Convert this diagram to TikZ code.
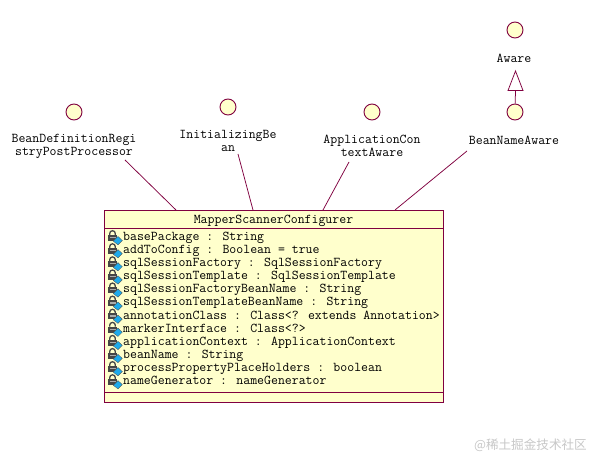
\documentclass[tikz,border=0pt]{standalone}
\usepackage{fontspec}
\newfontfamily\cjkmark{Noto Sans CJK SC}
\definecolor{umlline}{RGB}{128,0,64}
\definecolor{umlfill}{RGB}{255,255,204}
\definecolor{lockgrey}{RGB}{70,70,70}
\definecolor{lockband}{RGB}{170,170,170}
\definecolor{gemblue}{RGB}{30,170,235}
\definecolor{markgrey}{RGB}{200,200,200}
\tikzset{
  iface/.style={circle,draw=umlline,fill=umlfill,line width=0.9pt,minimum size=16pt,inner sep=0pt},
  umltext/.style={font=\ttfamily\fontsize{13.46}{13.2}\selectfont,text=black,inner sep=0pt,align=center},
  attr/.style={umltext,anchor=base west},
  link/.style={draw=umlline,line width=0.75pt},
  lockicon/.pic={
    \draw[lockgrey,line width=1.3pt] (1.7,-5.5) -- (1.7,-7) arc[start angle=180,end angle=360,radius=2.8] -- (7.3,-5.5);
    \fill[lockgrey] (0.3,-5.6) rectangle (9,0.4);
    \fill[lockband] (1.5,-3.6) rectangle (7.5,-2.4);
    \fill[gemblue,draw=black!70,line width=0.3pt] (5.3,0.7) -- (10,4.3) -- (14.3,0) -- (10,-4) -- cycle;
  }
}
\begin{document}
\begin{tikzpicture}[x=1pt,y=-1pt]
\useasboundingbox[fill=white] (0,0) rectangle (590,457);
% class box
\node[draw=umlline,fill=umlfill,line width=0.9pt,minimum width=339pt,minimum height=192pt,inner sep=0pt,anchor=north west] (cls) at (104,210) {};
\coordinate (sepA) at (104,228); \coordinate (sepAe) at (443,228);
\coordinate (sepB) at (104,392); \coordinate (sepBe) at (443,392);
\draw[link] (sepA) -- (sepAe);
\draw[link] (sepB) -- (sepBe);
\node[umltext,anchor=base] (clsname) at (273.5,223.5) {MapperScannerConfigurer};
% interfaces
\node[iface] (c1) at (74,112) {};
\node[iface] (c2) at (228,107) {};
\node[iface] (c3) at (372,112) {};
\node[iface] (c4) at (515,112) {};
\node[iface] (c5) at (515,30) {};
\node[umltext] (l1) at (74,146) {BeanDefinitionRegi\\stryPostProcessor};
\node[umltext] (l2) at (228,141) {InitializingBe\\an};
\node[umltext] (l3) at (372,146) {ApplicationCon\\textAware};
\node[umltext] (l4) at (514,140) {BeanNameAware};
\node[umltext] (l5) at (514,58) {Aware};
% connectors
\coordinate (s1) at (125,160); \coordinate (t1) at (176,210);
\coordinate (s2) at (238,154); \coordinate (t2) at (253,210);
\coordinate (s3) at (349,162); \coordinate (t3) at (323,210);
\coordinate (s4) at (467,151); \coordinate (t4) at (395,210);
\draw[link] (s1) -- (t1);
\draw[link] (s2) -- (t2);
\draw[link] (s3) -- (t3);
\draw[link] (s4) -- (t4);
% realisation arrow
\coordinate (apex) at (515.5,71);
\coordinate (baseL) at (508,90.5);
\coordinate (baseR) at (523,90.5);
\coordinate (baseM) at (515.5,90.5);
\draw[link] (c4) -- (baseM);
\draw[link,fill=white] (apex) -- (baseL) -- (baseR) -- cycle;
% attributes
\foreach \n/\t [count=\i from 0] in {
 a/{basePackage : String},
 b/{addToConfig : Boolean = true},
 c/{sqlSessionFactory : SqlSessionFactory},
 d/{sqlSessionTemplate : SqlSessionTemplate},
 e/{sqlSessionFactoryBeanName : String},
 f/{sqlSessionTemplateBeanName : String},
 g/{annotationClass : Class<? extends Annotation>},
 h/{markerInterface : Class<?>},
 i/{applicationContext : ApplicationContext},
 j/{beanName : String},
 k/{processPropertyPlaceHolders : boolean},
 l/{nameGenerator : nameGenerator}} {
  \pgfmathsetmacro{\yy}{240.5+13.1*\i}
  \pic at (108,\yy) {lockicon};
  \node[attr] (attr\n) at (123,\yy) {\t};
}
\node[font=\cjkmark\fontsize{12.6}{14}\selectfont,text=markgrey,anchor=east,inner sep=0pt] (mark) at (587,445) {@稀土掘金技术社区};
\end{tikzpicture}
\end{document}
